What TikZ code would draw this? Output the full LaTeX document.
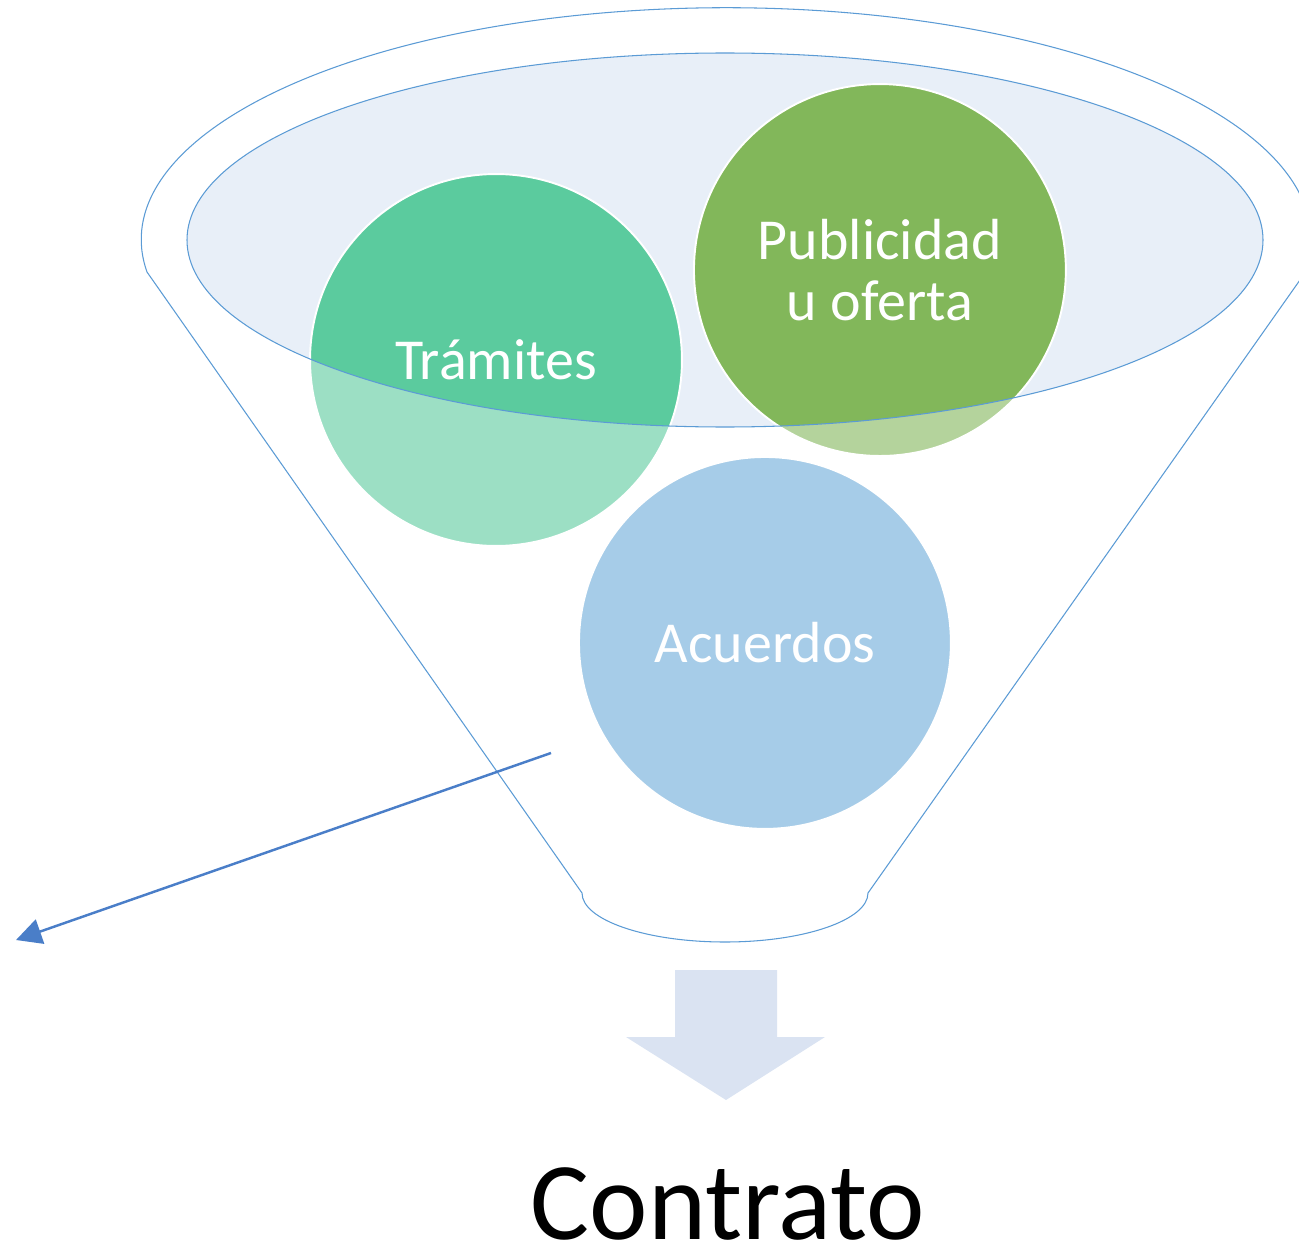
\documentclass[tikz,border=0pt]{standalone}
\usepackage{fontspec}
\setmainfont{Carlito}
\usepackage{xcolor}
\usepackage{tikz}
\usetikzlibrary{arrows.meta}
\usetikzlibrary{positioning}

\definecolor{funnelline}{RGB}{91,155,213}
\definecolor{mouthfill}{RGB}{232,239,248}
\definecolor{tramitesfill}{RGB}{91,203,158}
\definecolor{publicfill}{RGB}{130,183,90}
\definecolor{acuerdosfill}{RGB}{108,170,217}
\definecolor{pointerblue}{RGB}{74,126,200}
\definecolor{downfill}{RGB}{218,227,242}

\begin{document}
\begin{tikzpicture}[x=0.02cm,y=-0.02cm,
    bubble/.style={circle,draw=white,line width=1.1pt,minimum size=7.44cm,inner sep=0pt,
                   text=white,align=center,font=\fontsize{33}{34.6}\selectfont},
    rimline/.style={draw=funnelline,line width=0.6pt},
    pointer/.style={-{Triangle[length=0.51cm,width=0.51cm]},draw=pointerblue,line width=1.4pt}]

    \useasboundingbox (0,0) rectangle (1299,1247);

    % mouth of the funnel
    \fill[mouthfill] (725,240) ellipse[x radius=538, y radius=187];

    \node[bubble, fill=tramitesfill] (tramites) at (496,360) {Trámites};
    \node[bubble, fill=publicfill, on grid, above right=1.8cm and 7.68cm of tramites] (publicidad) {Publicidad\\u oferta};
    \node[bubble, fill=acuerdosfill, on grid, below right=5.66cm and 5.38cm of tramites] (acuerdos) {Acuerdos};

    % body of the funnel, lighter outside the mouth
    \path[fill=white, fill opacity=0.4, even odd rule]
    (147,272) arc[start angle=172, end angle=368, x radius=585, y radius=232]
    -- (868,893) arc[start angle=0, end angle=180, x radius=143, y radius=49]
    -- cycle
    (725,240) ellipse[x radius=538, y radius=187];

    \draw[rimline]
    (147,272) arc[start angle=172, end angle=368, x radius=585, y radius=232]
    -- (868,893) arc[start angle=0, end angle=180, x radius=143, y radius=49]
    -- cycle;
    \draw[rimline] (725,240) ellipse[x radius=538, y radius=187];

    % output arrow
    \fill[downfill] (675,970) -- (777,970) -- (777,1037) -- (825,1037)
    -- (726,1100) -- (626,1037) -- (675,1037) -- cycle;

    \node[anchor=base, inner sep=0pt, font=\fontsize{63}{66}\selectfont] (contrato) at (728,1239) {Contrato};

    \coordinate (pointerstart) at (551,753);
    \coordinate (pointerend) at (16,940);
    \draw[pointer] (pointerstart) -- (pointerend);

\end{tikzpicture}
\end{document}
